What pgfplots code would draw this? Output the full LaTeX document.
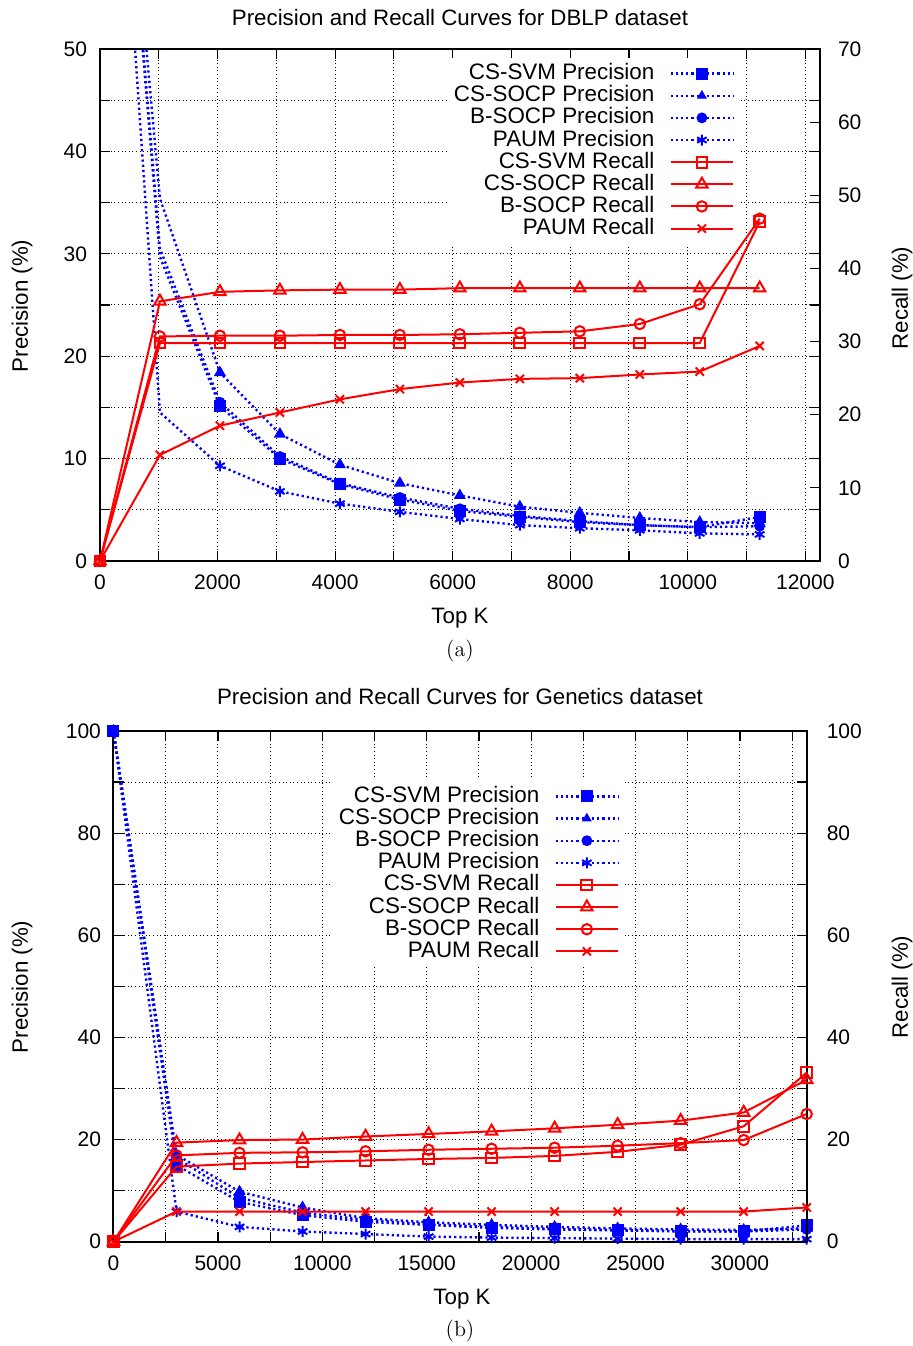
\documentclass[border=0pt]{standalone}
\usepackage{fontspec}
\newfontfamily\hv{Liberation Sans}
\usepackage{pgfplots}
\usepackage{pgfplotstable}
\pgfplotsset{compat=1.18}

% DBLP: Top K vs precision (left axis) and recall (right axis)
\pgfplotstableread{
k     csvmP csocpP bsocpP paumP csvmR csocpR bsocpR paumR
0     100   100    100    100   0     0      0      0
1020  29.7  35.4   30.5   14.5  29.8  35.5   30.7   14.5
2041  15.1  18.4   15.5   9.3   29.8  36.8   30.8   18.5
3061  10.0  12.4   10.2   6.8   29.8  37.0   30.8   20.3
4082  7.5   9.4    7.6    5.6   29.8  37.1   30.9   22.1
5102  6.0   7.6    6.2    4.8   29.8  37.1   30.9   23.5
6122  4.9   6.4    5.1    4.1   29.8  37.3   31.0   24.4
7143  4.3   5.3    4.4    3.5   29.8  37.3   31.2   24.9
8163  3.8   4.7    3.9    3.2   29.8  37.3   31.4   25.0
9184  3.5   4.2    3.5    3.0   29.8  37.3   32.4   25.5
10204 3.3   3.8    3.3    2.7   29.8  37.3   35.1   25.9
11224 4.3   3.7    3.4    2.6   46.4  37.3   46.8   29.4
}\dblp

% Genetics
\pgfplotstableread{
k     csvmP csocpP bsocpP paumP csvmR csocpR bsocpR paumR
0     100   100    100    100   0     0      0      0
3018  15.0  17.0   16.4   5.9   14.7  19.4   16.9   5.9
6036  7.8   9.8    8.6    2.9   15.3  19.9   17.4   5.9
9054  5.2   6.7    5.7    2.0   15.6  20.0   17.5   5.9
12072 3.9   4.6    4.3    1.5   15.9  20.6   17.7   5.9
15090 3.3   3.8    3.4    1.0   16.2  21.1   18.0   5.9
18108 2.7   3.3    2.9    0.8   16.4  21.6   18.2   5.9
21126 2.4   2.9    2.5    0.7   16.8  22.2   18.4   5.9
24144 2.2   2.6    2.3    0.6   17.6  22.9   18.8   5.9
27162 2.0   2.4    2.1    0.5   19.0  23.7   19.3   5.9
30180 2.0   2.3    2.0    0.5   22.6  25.3   19.9   5.9
33198 3.2   2.6    2.4    0.5   33.1  31.7   25.0   6.7
}\genetics

\pgfplotsset{
  prec/.style={blue, line width=1.2pt, dash pattern=on 1.1pt off 1.5pt,
    mark options={solid, fill=blue, line width=0.6pt}},
  precstar/.style={prec, mark=asterisk, mark size=2.75pt,
    mark options={solid, line width=1pt}},
  rec/.style={red, line width=1pt, mark options={solid, line width=1pt}},
  base/.style={
    scale only axis, anchor=south west,
    tick align=inside,
    major tick length=5pt, minor tick length=5pt,
    every tick/.style={black, line width=0.6pt},
    axis line style={black, line width=1pt},
    tick label style={font=\hv\fontsize{10.5}{12}\selectfont},
    /pgf/number format/assume math mode=true,
    /pgf/number format/1000 sep={},
    scaled ticks=false,
    xticklabel shift=3.5pt,
  },
  gnugrid/.style={grid=both,
    grid style={black, line width=0.5pt, dash pattern=on 0.5pt off 1.3pt}},
  gnukey/.style={
    legend plot pos=right, legend cell align=right,
    legend image code/.code={\draw[mark repeat=2,mark phase=2,##1]
      plot coordinates {(0cm,0cm) (0.55cm,0cm) (1.1cm,0cm)};},
    legend style={at={#1}, anchor=north east, draw=none, fill=white, inner sep=3pt,
      font=\hv\fontsize{11.2}{13}\selectfont, row sep=1.07pt, /tikz/column sep=7.5pt,
      nodes={inner sep=0pt, text height=8pt, text depth=2pt}},
  },
}

\begin{document}
\begin{tikzpicture}
\useasboundingbox (0,0) rectangle (456.5pt,673pt);

% ---------- (a) DBLP ----------
\begin{axis}[base, gnugrid, at={(50pt,392.5pt)}, width=360pt, height=256pt,
  xmin=0, xmax=12250, ymin=0, ymax=50,
  xtick distance=2000, minor x tick num=1,
  ytick distance=10, minor y tick num=1,
  yticklabel shift=3pt]
\addplot[prec, mark=square*, mark size=2.7pt, mark phase=2] table[x=k,y=csvmP]{\dblp};
\addplot[prec, mark=triangle*, mark size=2.9pt, mark phase=2] table[x=k,y=csocpP]{\dblp};
\addplot[prec, mark=*, mark size=2.4pt, mark phase=2] table[x=k,y=bsocpP]{\dblp};
\addplot[precstar, mark phase=2] table[x=k,y=paumP]{\dblp};
\end{axis}
\begin{axis}[base, at={(50pt,392.5pt)}, width=360pt, height=256pt,
  xmin=0, xmax=12250, ymin=0, ymax=70,
  axis x line=none, axis y line*=right,
  ytick distance=10, yticklabel shift=5.5pt,
  gnukey={(0.890,0.984)}]
\addlegendimage{prec, mark=square*, mark size=2.7pt}\addlegendentry{CS-SVM Precision}
\addlegendimage{prec, mark=triangle*, mark size=2.3pt}\addlegendentry{CS-SOCP Precision}
\addlegendimage{prec, mark=*, mark size=2.4pt}\addlegendentry{B-SOCP Precision}
\addlegendimage{precstar}\addlegendentry{PAUM Precision}
\addplot[rec, mark=square, mark size=2.7pt] table[x=k,y=csvmR]{\dblp};
\addlegendentry{CS-SVM Recall}
\addplot[rec, mark=triangle, mark size=3.3pt] table[x=k,y=csocpR]{\dblp};
\addlegendentry{CS-SOCP Recall}
\addplot[rec, mark=o, mark size=2.6pt] table[x=k,y=bsocpR]{\dblp};
\addlegendentry{B-SOCP Recall}
\addplot[rec, mark=x, mark size=2.9pt] table[x=k,y=paumR]{\dblp};
\addlegendentry{PAUM Recall}
\end{axis}

% ---------- (b) Genetics ----------
\begin{axis}[base, gnugrid, at={(56.75pt,52.15pt)}, width=346.6pt, height=255.35pt,
  xmin=0, xmax=33198, ymin=0, ymax=100,
  xtick distance=5000, minor x tick num=1,
  ytick distance=20, minor y tick num=1,
  yticklabel shift=2.75pt]
\addplot[prec, mark=square*, mark size=2.7pt] table[x=k,y=csvmP]{\genetics};
\addplot[prec, mark=triangle*, mark size=2.9pt] table[x=k,y=csocpP]{\genetics};
\addplot[prec, mark=*, mark size=2.4pt] table[x=k,y=bsocpP]{\genetics};
\addplot[precstar] table[x=k,y=paumP]{\genetics};
\end{axis}
\begin{axis}[base, at={(56.75pt,52.15pt)}, width=346.6pt, height=255.35pt,
  xmin=0, xmax=33198, ymin=0, ymax=100,
  axis x line=none, axis y line*=right,
  ytick distance=20, minor y tick num=1, yticklabel shift=6.5pt,
  gnukey={(0.739,0.904)}]
\addlegendimage{prec, mark=square*, mark size=2.7pt}\addlegendentry{CS-SVM Precision}
\addlegendimage{prec, mark=triangle*, mark size=2.3pt}\addlegendentry{CS-SOCP Precision}
\addlegendimage{prec, mark=*, mark size=2.4pt}\addlegendentry{B-SOCP Precision}
\addlegendimage{precstar}\addlegendentry{PAUM Precision}
\addplot[rec, mark=square, mark size=2.7pt] table[x=k,y=csvmR]{\genetics};
\addlegendentry{CS-SVM Recall}
\addplot[rec, mark=triangle, mark size=3.3pt] table[x=k,y=csocpR]{\genetics};
\addlegendentry{CS-SOCP Recall}
\addplot[rec, mark=o, mark size=2.6pt] table[x=k,y=bsocpR]{\genetics};
\addlegendentry{B-SOCP Recall}
\addplot[rec, mark=x, mark size=2.9pt] table[x=k,y=paumR]{\genetics};
\addlegendentry{PAUM Recall}
\end{axis}

% titles, axis labels, captions
\begin{scope}[every node/.style={font=\hv\fontsize{11.15}{13}\selectfont, inner sep=0pt}]
\node[anchor=base] at (230pt,660pt) {Precision and Recall Curves for DBLP dataset};
\node[anchor=base] at (230pt,320.5pt) {Precision and Recall Curves for Genetics dataset};
\node[anchor=base] at (230pt,361pt) {Top K};
\node[anchor=base] at (231pt,20.5pt) {Top K};
\node[rotate=90] at (11pt,520pt) {Precision (\%)};
\node[rotate=90] at (11pt,179.5pt) {Precision (\%)};
\node[rotate=90] at (451pt,524pt) {Recall (\%)};
\node[rotate=90] at (451pt,179.5pt) {Recall (\%)};
\end{scope}
\node[font=\fontsize{11}{13}\selectfont, inner sep=0pt, anchor=base] at (230pt,344.75pt) {(a)};
\node[font=\fontsize{11}{13}\selectfont, inner sep=0pt, anchor=base] at (230pt,4.75pt) {(b)};
\end{tikzpicture}
\end{document}
